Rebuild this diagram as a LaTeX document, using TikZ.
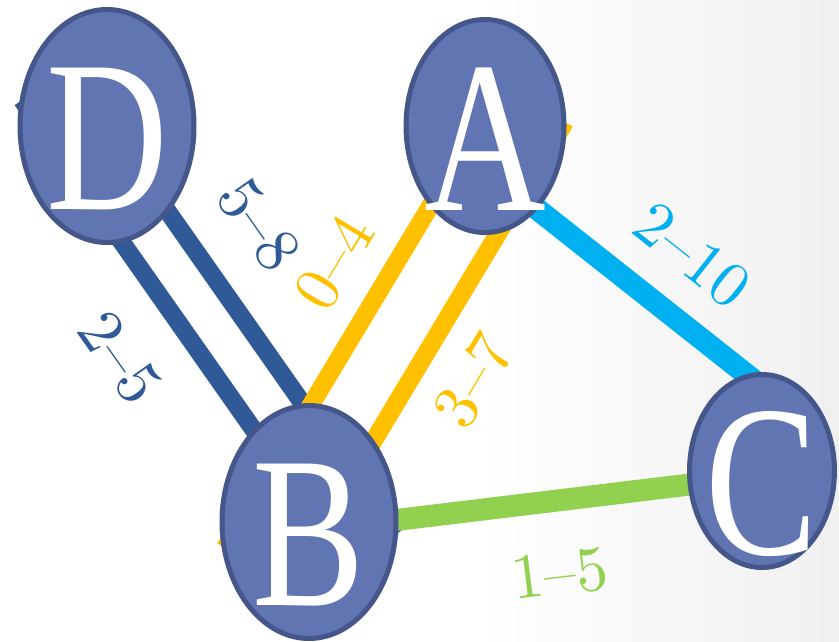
\documentclass[tikz,border=0pt]{standalone}
\usepackage{fontspec}
\usepackage{tikz}
\usetikzlibrary{shapes.geometric}
\newfontfamily\letterfont{Liberation Serif}
\newfontfamily\tenfont{lmroman10-regular.otf}[Ligatures=TeX]
\definecolor{vfill}{HTML}{6075B2}
\definecolor{vline}{HTML}{44568A}
\definecolor{navy}{HTML}{2F5997}
\definecolor{gold}{HTML}{FFC000}
\definecolor{sky}{HTML}{00B0F0}
\definecolor{lime}{HTML}{92D050}

\begin{document}
\begin{tikzpicture}[x=1pt, y=-1pt,
    vertex/.style={ellipse, draw=vline, fill=vfill, line width=5pt, inner sep=0pt},
    letter/.style={text=white, xscale=0.78, yshift=-13pt, inner sep=0pt, font=\fontsize{216}{216}\letterfont},
    wire/.style={line width=#1},
    wire/.default=18pt,
    linklabel/.style={sloped, inner sep=0pt, font=\fontsize{64}{64}\tenfont}]
\useasboundingbox (0,0) rectangle (839,641);
\shade[left color=white, right color=black!6] (480,0) rectangle (839,641);

% end points of the links
\coordinate (d1) at (22,100);  \coordinate (b1) at (350,567);
\coordinate (d2) at (67,68);   \coordinate (b2) at (395,535);
\coordinate (b3) at (225,548); \coordinate (a3) at (503,85);
\coordinate (b4) at (287,585); \coordinate (a4) at (565,122);
\coordinate (a5) at (470,156); \coordinate (c5) at (780,401);
\coordinate (b6) at (330,528); \coordinate (c6) at (760,476);

\draw[wire, navy] (d1) -- node[linklabel, pos=0.468, below=37pt] {2--5} (b1);
\draw[wire, navy] (d2) -- node[linklabel, pos=0.418, above=36pt] {5--8} (b2);
\draw[wire, gold] (b3) -- node[linklabel, pos=0.557, above=22pt] {0--4} (a3);
\draw[wire, gold] (b4) -- node[linklabel, pos=0.503, below=23pt] {3--7} (a4);
\draw[wire=22pt, sky] (a5) -- node[linklabel, pos=0.598, above=27pt] {2--10} (c5);
\draw[wire=22pt, lime] (b6) -- node[linklabel, pos=0.514, below=40pt] {1--5} (c6);

\node[vertex, minimum width=174pt, minimum height=233pt, label={[letter]center:D}] (D) at (107,126) {};
\node[vertex, minimum width=158pt, minimum height=213pt, label={[letter]center:A}] (A) at (485,126) {};
\node[vertex, minimum width=174pt, minimum height=233pt, label={[letter]center:B}] (B) at (309,522) {};
\node[vertex, minimum width=145pt, minimum height=193pt, label={[letter]center:C}] (C) at (762,471) {};
\end{tikzpicture}
\end{document}
